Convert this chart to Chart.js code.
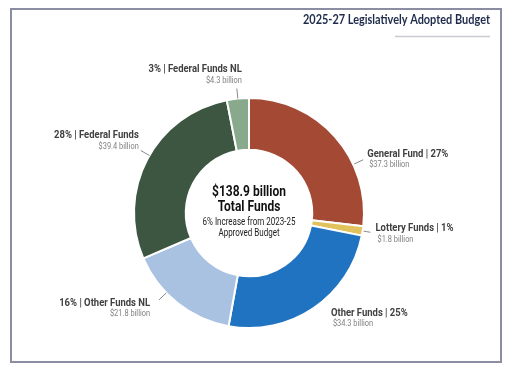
<!DOCTYPE html>
<html>
<head>
<title>2025-27 Legislatively Adopted Budget</title>
<script src="https://cdn.jsdelivr.net/npm/chart.js"></script>
<style>
    body { margin: 0; background: #fff; }
    .chart-wrap { position: relative; width: 518px; height: 378px; }
</style>
</head>
<body>
<div class="chart-wrap"><canvas id="budgetChart" width="518" height="378"></canvas></div>
<script>
// data
const categories = ['General Fund', 'Lottery Funds', 'Other Funds', 'Other Funds NL', 'Federal Funds', 'Federal Funds NL'];
const amounts = [37.3, 1.8, 34.3, 21.8, 39.4, 4.3];      // $ billion
const percents = [27, 1, 25, 16, 28, 3];
const sliceColors = ['#a44a34', '#e2c25c', '#1f73c0', '#aac2e2', '#3c5641', '#88a98b'];
const chartTitle = '2025-27 Legislatively Adopted Budget';
const centerLines = ['$138.9 billion', 'Total Funds', '6% Increase from 2023-25', 'Approved Budget'];

// label placement: leader angle (deg clockwise from top), leader radii offsets, text offset from leader end
const labelLayout = [
    { angle: 65, r1: 1, r2: 11, dx: 4, dy: -6, align: 'left' },
    { angle: null, r1: 1, r2: 8, dx: 5, dy: -4, align: 'left' },
    { angle: 140, r1: 0, r2: 0, dx: 8, dy: 12, align: 'left' },
    { angle: 226, r1: 0, r2: 10, dx: -9, dy: 3, align: 'right' },
    { angle: 300, r1: 0, r2: 10, dx: -2, dy: -15, align: 'right' },
    { angle: null, r1: 0, r2: 10, dx: 5, dy: -19, align: 'right' },
];

// no narrow font installed, so squeeze text horizontally
function squeezeText(ctx, text, x, y, align, sx) {
    ctx.save();
    ctx.translate(x, y);
    ctx.scale(sx, 1);
    ctx.textAlign = align;
    ctx.textBaseline = 'middle';
    ctx.fillText(text, 0, 0);
    ctx.restore();
}

const framePlugin = {
    id: 'frame',
    beforeDraw(chart) {
        const ctx = chart.ctx;
        ctx.save();
        ctx.fillStyle = '#fff';
        ctx.fillRect(0, 0, chart.width, chart.height);
        ctx.strokeStyle = '#8b8da3';
        ctx.lineWidth = 2;
        ctx.strokeRect(11, 9, 490, 353);
        ctx.fillStyle = '#1e2b4b';
        ctx.font = 'bold 12.5px Lato, sans-serif';
        squeezeText(ctx, chartTitle, 490, 20, 'right', 0.875);
        ctx.strokeStyle = '#c9cbd3';
        ctx.lineWidth = 1.5;
        ctx.beginPath();
        ctx.moveTo(395, 36.5);
        ctx.lineTo(490, 36.5);
        ctx.stroke();
        ctx.restore();
    }
};

const labelPlugin = {
    id: 'sliceLabels',
    afterDraw(chart) {
        const ctx = chart.ctx;
        const arcs = chart.getDatasetMeta(0).data;
        ctx.save();
        arcs.forEach((arc, i) => {
            const lay = labelLayout[i];
            const mid = (arc.startAngle + arc.endAngle) / 2;
            const a = lay.angle === null ? mid : (lay.angle - 90) * Math.PI / 180;
            const R = arc.outerRadius;
            const x1 = arc.x + Math.cos(a) * (R + lay.r1), y1 = arc.y + Math.sin(a) * (R + lay.r1);
            const x2 = arc.x + Math.cos(a) * (R + lay.r2), y2 = arc.y + Math.sin(a) * (R + lay.r2);
            if (lay.r2 > lay.r1) {
                ctx.strokeStyle = '#8a8a8a';
                ctx.lineWidth = 1;
                ctx.beginPath();
                ctx.moveTo(x1, y1);
                ctx.lineTo(x2, y2);
                ctx.stroke();
            }
            const tx = x2 + lay.dx, ty = y2 + lay.dy;
            const head = lay.align === 'left'
                ? categories[i] + ' | ' + percents[i] + '%'
                : percents[i] + '% | ' + categories[i];
            ctx.fillStyle = '#404040';
            ctx.font = 'bold 11px Roboto, sans-serif';
            squeezeText(ctx, head, tx, ty, lay.align, 0.86);
            ctx.fillStyle = '#808080';
            ctx.font = '9.5px Roboto, sans-serif';
            squeezeText(ctx, '$' + amounts[i].toFixed(1) + ' billion', tx + (lay.align === 'left' ? 2 : 0), ty + 11, lay.align, 0.78);
        });

        // center text
        const cx = arcs[0].x, cy = arcs[0].y;
        ctx.fillStyle = '#111';
        ctx.font = 'bold 15px Roboto, sans-serif';
        squeezeText(ctx, centerLines[0], cx, cy - 21, 'center', 0.8);
        squeezeText(ctx, centerLines[1], cx, cy - 6, 'center', 0.8);
        ctx.fillStyle = '#222';
        ctx.font = '10px Roboto, sans-serif';
        squeezeText(ctx, centerLines[2], cx, cy + 9, 'center', 0.8);
        squeezeText(ctx, centerLines[3], cx, cy + 20, 'center', 0.8);
        ctx.restore();
    }
};

new Chart(document.getElementById('budgetChart'), {
    type: 'doughnut',
    data: {
        labels: categories,
        datasets: [{
            data: amounts,
            backgroundColor: sliceColors,
            borderColor: '#ffffff',
            borderWidth: 2,
        }]
    },
    options: {
        responsive: false,
        animation: false,
        cutout: '55%',
        layout: { padding: { left: 133, right: 153, top: 97, bottom: 49 } },
        plugins: {
            legend: { display: false },
            tooltip: { enabled: false }
        }
    },
    plugins: [framePlugin, labelPlugin]
});
</script>
</body>
</html>
